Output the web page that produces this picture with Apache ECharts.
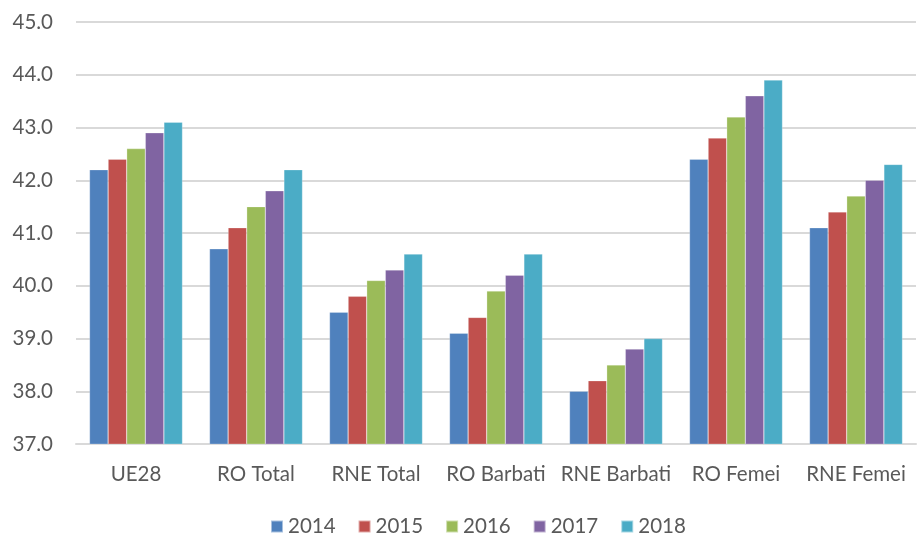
<!DOCTYPE html>
<html><head><meta charset="utf-8">
<script src="https://cdn.jsdelivr.net/npm/echarts@6/dist/echarts.min.js"></script>
<style>html,body{margin:0;padding:0;background:#fff}#c{width:917px;height:537px}</style>
</head><body><div id="c"></div>
<script>
const categories = ['UE28','RO Total','RNE Total','RO Barbati','RNE Barbati','RO Femei','RNE Femei'];
const years = ['2014','2015','2016','2017','2018'];
const v2014 = [42.2, 40.7, 39.5, 39.1, 38.0, 42.4, 41.1];
const v2015 = [42.4, 41.1, 39.8, 39.4, 38.2, 42.8, 41.4];
const v2016 = [42.6, 41.5, 40.1, 39.9, 38.5, 43.2, 41.7];
const v2017 = [42.9, 41.8, 40.3, 40.2, 38.8, 43.6, 42.0];
const v2018 = [43.1, 42.2, 40.6, 40.6, 39.0, 43.9, 42.3];
const seriesValues = [v2014, v2015, v2016, v2017, v2018];
const colors = ['#4f81bd','#c0504d','#9bbb59','#8064a2','#4bacc6'];
const font = 'Lato, "Open Sans", sans-serif';
const fs = 20.5;
const chart = echarts.init(document.getElementById('c'));
chart.setOption({
  animation:false,
  color: colors,
  grid:{left:76,right:1,top:22,bottom:93,containLabel:false},
  legend:{top:511,left:265,itemWidth:12,itemHeight:12,itemGap:22,icon:'rect',
    textStyle:{fontFamily:font,fontSize:fs,color:'#595959'},data:years},
  xAxis:{type:'category',data:categories,
    axisLine:{lineStyle:{color:'#d9d9d9',width:2}},axisTick:{show:false},
    axisLabel:{fontFamily:font,fontSize:fs,color:'#595959',margin:20,interval:0}},
  yAxis:{type:'value',min:37,max:45,interval:1,
    axisLine:{show:false},axisTick:{show:false},
    splitLine:{lineStyle:{color:'#d9d9d9',width:2}},
    axisLabel:{fontFamily:font,fontSize:fs,color:'#595959',margin:23,formatter:v=>v.toFixed(1)}},
  series: seriesValues.map((d,i)=>({name:years[i],type:'bar',data:d,barGap:'0%',barCategoryGap:'22.5%',
    itemStyle:{borderColor:'rgba(255,255,255,0.5)',borderWidth:0.5}}))
});
</script></body></html>
